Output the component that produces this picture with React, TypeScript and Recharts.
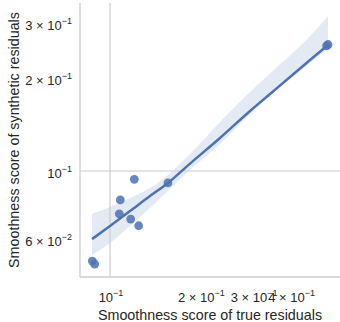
import React from 'react';
import { ComposedChart, Scatter, Line, Area, XAxis, YAxis, ReferenceLine } from 'recharts';

// observed scores
const trueScores = [0.1205, 0.1082, 0.1074, 0.1172, 0.1246, 0.156, 0.0873, 0.0889, 0.533, 0.527];
const synthScores = [0.094, 0.0806, 0.0727, 0.0699, 0.0665, 0.0915, 0.0511, 0.05, 0.2567, 0.254];

// regression fit + confidence band
const fitX = [0.0871, 0.1, 0.1166, 0.1359, 0.1561, 0.1848, 0.2326, 0.2929, 0.3415, 0.4642, 0.5329];
const fitY = [0.0602, 0.0664, 0.0742, 0.083, 0.0915, 0.1057, 0.1279, 0.1564, 0.1776, 0.2287, 0.2557];
const ciLow = [0.0535, 0.0585, 0.0664, 0.0759, 0.0862, 0.1007, 0.1223, 0.1529, 0.1749, 0.2236, 0.2501];
const ciHigh = [0.0726, 0.0765, 0.0818, 0.0881, 0.0971, 0.1135, 0.1441, 0.1802, 0.2068, 0.2734, 0.3174];

const xTicks = [0.1, 0.2, 0.3, 0.4];
const xTickLabels = [['', '10', '−1'], ['2 × ', '10', '−1'], ['3 × ', '10', '−1'], ['4 × ', '10', '−1']];
const yTicks = [0.06, 0.1, 0.2, 0.3];
const yTickLabels = [['6 × ', '10', '−2'], ['', '10', '−1'], ['2 × ', '10', '−1'], ['3 × ', '10', '−1']];

const points = trueScores.map((x, i) => ({ x, y: synthScores[i] }));
const fitData = fitX.map((x, i) => ({ x, fit: fitY[i], band: [ciLow[i], ciHigh[i]] }));

const BLUE = '#4c72b0';
const GRID = '#cccccc';
const TEXT = '#262626';
const FONT = '"Liberation Sans", Arial, sans-serif';

const XTick = ({ x, y, payload }: any) => {
  const idx = xTicks.indexOf(payload.value);
  const [pre, base, sup] = xTickLabels[idx] || ['', '', ''];
  return (
    <text x={x + 1} y={302} textAnchor="middle" fill={TEXT} fontSize={13} fontFamily={FONT}>
      {pre}{base}
      <tspan fontSize={9} dy={-6}>{sup}</tspan>
    </text>
  );
};

const YTick = ({ y, payload }: any) => {
  const idx = yTicks.indexOf(payload.value);
  const [pre, base, sup] = yTickLabels[idx] || ['', '', ''];
  return (
    <text x={72} y={y + 6.5} textAnchor="end" fill={TEXT} fontSize={13} fontFamily={FONT}>
      {pre}{base}
      <tspan fontSize={9} dy={-6}>{sup}</tspan>
    </text>
  );
};

const App: React.FC = () => {
  return (
    <div style={{ position: 'absolute', left: 0, top: 0, width: 340, height: 322, background: '#fff' }}>
      <ComposedChart width={340} height={322} data={fitData} margin={{ top: 3, right: 0, left: 0, bottom: 0 }}>
        <XAxis
          type="number"
          dataKey="x"
          scale="log"
          domain={[0.07943, 0.5843]}
          allowDataOverflow
          ticks={xTicks}
          interval={0}
          tick={<XTick />}
          tickLine={false}
          axisLine={{ stroke: GRID, strokeWidth: 1.3 }}
          height={45}
        />
        <YAxis
          type="number"
          dataKey="y"
          scale="log"
          domain={[0.04539, 0.3498]}
          allowDataOverflow
          ticks={yTicks}
          interval={0}
          tick={<YTick />}
          tickLine={false}
          axisLine={{ stroke: GRID, strokeWidth: 1.3 }}
          width={80}
        />
        <ReferenceLine x={0.1} stroke={GRID} strokeWidth={1.2} />
        <ReferenceLine y={0.1} stroke={GRID} strokeWidth={1.2} />
        <Area
          dataKey="band"
          type="monotone"
          stroke="none"
          fill={BLUE}
          fillOpacity={0.15}
          isAnimationActive={false}
          dot={false}
          activeDot={false}
        />
        <Line
          dataKey="fit"
          type="monotone"
          stroke={BLUE}
          strokeWidth={2.5}
          dot={false}
          activeDot={false}
          isAnimationActive={false}
        />
        <Scatter
          data={points}
          dataKey="y"
          fill={BLUE}
          shape={(p: any) => <circle cx={p.cx} cy={p.cy} r={4.4} fill={BLUE} fillOpacity={0.85} />}
          isAnimationActive={false}
        />
        <text x={210} y={320} textAnchor="middle" fill={TEXT} fontSize={14.3} fontFamily={FONT}>
          Smoothness score of true residuals
        </text>
        <text
          x={19}
          y={140}
          textAnchor="middle"
          fill={TEXT}
          fontSize={14.3}
          fontFamily={FONT}
          transform="rotate(-90 19 140)"
        >
          Smoothness score of synthetic residuals
        </text>
      </ComposedChart>
    </div>
  );
};

export default App;
